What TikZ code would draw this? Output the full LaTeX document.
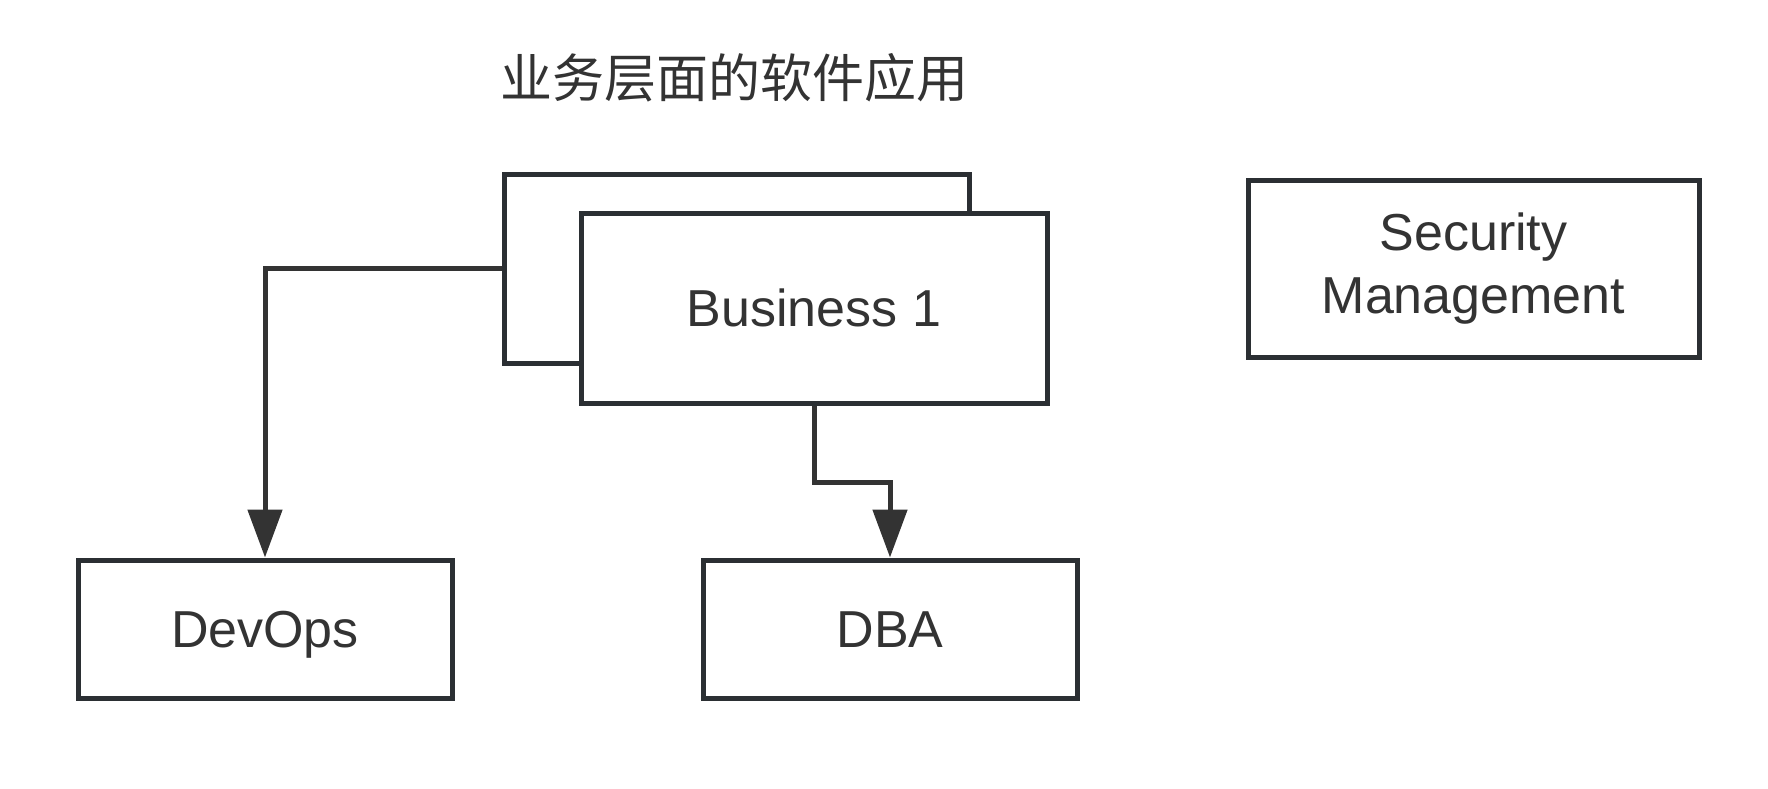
\documentclass[tikz,border=0pt]{standalone}
\usepackage{fontspec}
\setmainfont{Liberation Sans}
\newfontfamily\cjk{Noto Sans CJK SC}
\usetikzlibrary{arrows.meta}
\definecolor{boxline}{HTML}{2B2F33}
\definecolor{txt}{HTML}{333333}
\tikzset{
  box/.style={draw=boxline, line width=2.5pt, fill=white, rectangle, inner sep=0pt,
    text=txt, font=\fontsize{26}{31.5}\selectfont},
  oneline/.style={text height=18.6pt, text depth=0pt},
  conn/.style={draw=txt, line width=2.5pt,
    -{Triangle[length=24pt 0 0, width=17pt 0 0]}},
}
\begin{document}
\begin{tikzpicture}[x=0.5pt, y=-0.5pt]
\useasboundingbox (0,0) rectangle (1768,788);
\node[text=txt, font=\cjk\fontsize{26}{31}\selectfont] (title) at (734,78) {业务层面的软件应用};
\node[box, minimum width=232.5pt, minimum height=94.5pt] (back) at (736.5,268.5) {};
\node[box, oneline, minimum width=233pt, minimum height=95pt] (front) at (814,308) {Business 1};
\node[box, align=center, minimum width=225.5pt, minimum height=88.5pt] (sec) at (1473.5,268.5) {Security\\Management};
\node[box, oneline, minimum width=187pt, minimum height=69pt] (devops) at (265,629) {DevOps};
\node[box, oneline, minimum width=187pt, minimum height=69pt] (dba) at (890,629) {DBA};
\coordinate (bend) at (814,482);
\draw[conn] (back.west) -| (devops.north);
\draw[conn] (front.south) -- (bend) -| (dba.north);
\end{tikzpicture}
\end{document}
